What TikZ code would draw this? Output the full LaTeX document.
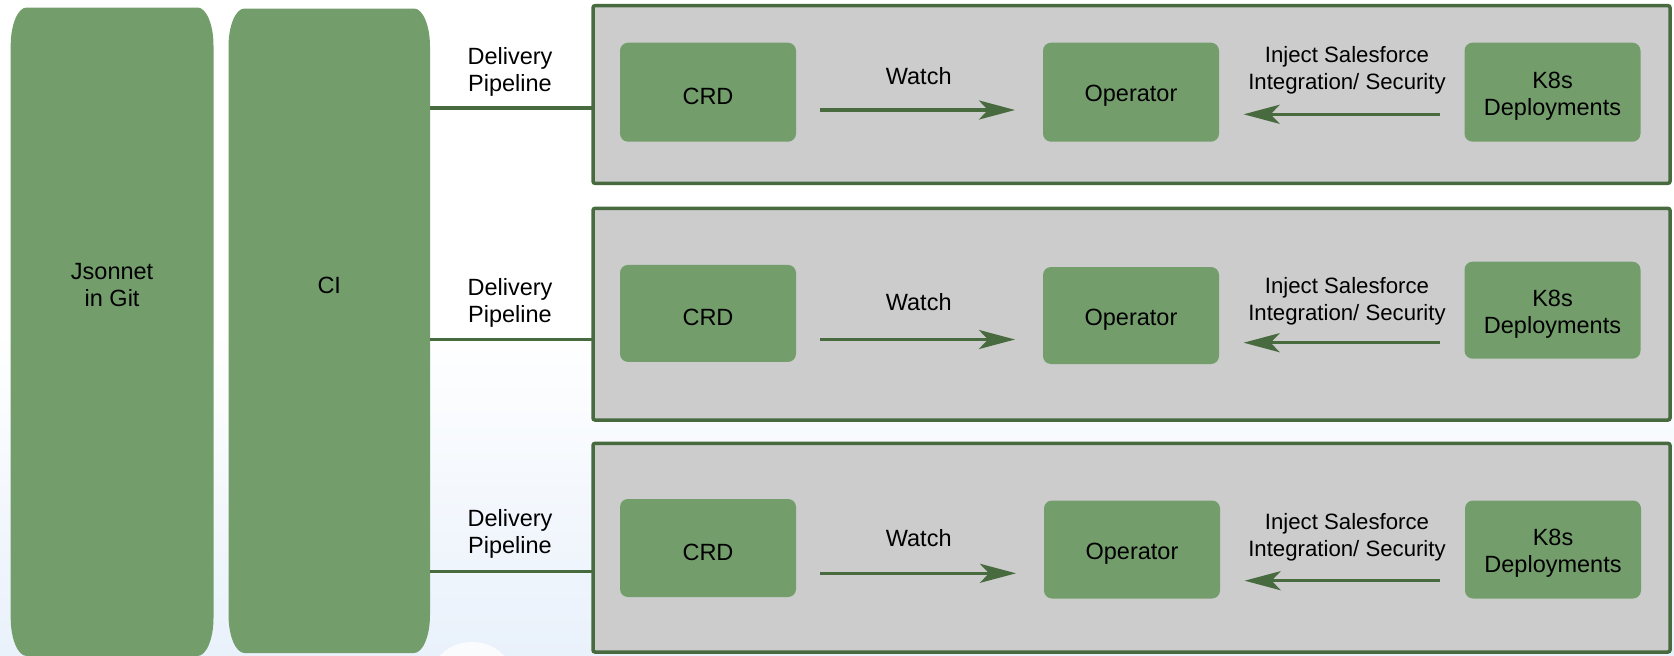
\documentclass[tikz,border=0pt]{standalone}
\usepackage{fontspec}
\setmainfont{Liberation Sans}
\usetikzlibrary{arrows.meta,calc}
\definecolor{gfill}{RGB}{115,158,108}
\definecolor{dgreen}{RGB}{71,107,63}
\definecolor{gbox}{RGB}{204,204,204}
\definecolor{bgb}{RGB}{233,241,251}
\newcommand\pillshape[1]{%
  \fill[gfill] ([yshift=-38pt]#1.north west) arc[start angle=180,end angle=90,x radius=16pt,y radius=38pt]
    -- ([xshift=-16pt]#1.north east) arc[start angle=90,end angle=0,x radius=16pt,y radius=38pt]
    -- ([yshift=38pt]#1.south east) arc[start angle=0,end angle=-90,x radius=16pt,y radius=38pt]
    -- ([xshift=16pt]#1.south west) arc[start angle=-90,end angle=-180,x radius=16pt,y radius=38pt]
    -- cycle;}
\tikzset{
  txt/.style={font=\fontsize{23.5}{27}\selectfont, align=center, inner sep=0pt},
  injtxt/.style={txt, font=\fontsize{22.2}{27}\selectfont},
  holder/.style={draw=none, fill=none, inner sep=0pt, outer sep=0pt},
  section/.style={draw=dgreen, fill=gbox, line width=3.5pt, rounded corners=2pt, inner sep=0pt, outer sep=0pt},
  inbox/.style={fill=gfill, rounded corners=8pt, minimum width=176pt, inner sep=0pt, outer sep=0pt},
  intext/.style={txt, yshift=-4pt},
  conn/.style={draw=dgreen, line width=3.5pt},
  arr/.style={draw=dgreen, line width=3.5pt, -{Stealth[length=36pt,width=19pt,inset=9pt]}}
}
\begin{document}
\begin{tikzpicture}[x=1pt,y=-1pt]
\useasboundingbox (0,0) rectangle (1674,656);
% background
\fill[white] (0,0) rectangle (1674,330);
\shade[top color=white, bottom color=bgb] (0,330) rectangle (1674,656);
\fill[white, opacity=0.75] (472,672) ellipse[x radius=38pt, y radius=30pt];

% tall pillars
\node[holder, minimum width=202.8pt, minimum height=648.5pt] (json) at (112.1,331.75) {};
\node[holder, minimum width=201.5pt, minimum height=644.5pt] (ci) at (329.25,330.75) {};
\pillshape{json}
\pillshape{ci}
\node[txt] (jsontxt) at (112.1,285) {Jsonnet\\in Git};
\node[txt] (citxt) at (329.25,285) {CI};

% section boxes
\node[section, minimum width=1077pt, minimum height=177.6pt] (sec1) at (1131.5,94.5) {};
\node[section, minimum width=1077pt, minimum height=211.6pt] (sec2) at (1131.5,314.2) {};
\node[section, minimum width=1077pt, minimum height=208.6pt] (sec3) at (1131.5,547.7) {};

% delivery pipelines
\coordinate (d1) at (510,108);
\coordinate (d2) at (510,339.5);
\coordinate (d3) at (510,571.5);
\draw[conn] (ci.east |- d1) -- (sec1.west |- d1);
\draw[conn] (ci.east |- d2) -- (sec2.west |- d2);
\draw[conn] (ci.east |- d3) -- (sec3.west |- d3);
\node[txt] (dl1) at (510,71.7) {Delivery\\Pipeline};
\node[txt] (dl2) at (510,303) {Delivery\\Pipeline};
\node[txt] (dl3) at (510,534) {Delivery\\Pipeline};

% row 1
\node[inbox, minimum height=99pt, label={[intext]center:CRD}] (crd1) at (708,92.2) {};
\node[inbox, minimum height=99pt, label={[intext]center:Operator}] (op1) at (1131,92.2) {};
\node[inbox, minimum height=99pt, label={[intext]center:{K8s\\Deployments}}] (k1) at (1552.5,92.2) {};
\draw[arr] ($(crd1.east)+(24,17.8)$) -- ($(op1.west)+(-28,17.8)$);
\draw[arr] ($(k1.west)+(-25,22.1)$) -- ($(op1.east)+(24.6,22.1)$);
\node[txt] (w1) at (918.7,76) {Watch};
\node[injtxt] (i1) at (1347,70.5) {Inject Salesforce\\Integration/ Security};

% row 2
\node[inbox, minimum height=97pt, label={[intext]center:CRD}] (crd2) at (708,313.4) {};
\node[inbox, minimum height=97pt, label={[intext]center:Operator}] (op2) at (1131,315.5) {};
\node[inbox, minimum height=97pt, label={[intext]center:{K8s\\Deployments}}] (k2) at (1552.5,310.2) {};
\draw[arr] ($(crd2.east)+(24,26.1)$) -- ($(op2.west)+(-28,24)$);
\draw[arr] ($(k2.west)+(-25,32.5)$) -- ($(op2.east)+(24.6,27.2)$);
\node[txt] (w2) at (918.7,302) {Watch};
\node[injtxt] (i2) at (1347,301) {Inject Salesforce\\Integration/ Security};

% row 3
\node[inbox, minimum height=98pt, label={[intext]center:CRD}] (crd3) at (708,548) {};
\node[inbox, minimum height=98pt, label={[intext]center:Operator}] (op3) at (1132,549.5) {};
\node[inbox, minimum height=98pt, label={[intext]center:{K8s\\Deployments}}] (k3) at (1553,549.5) {};
\draw[arr] ($(crd3.east)+(24,25.3)$) -- ($(op3.west)+(-28,23.8)$);
\draw[arr] ($(k3.west)+(-25,31.2)$) -- ($(op3.east)+(24.6,31.2)$);
\node[txt] (w3) at (918.7,538) {Watch};
\node[injtxt] (i3) at (1347,537.5) {Inject Salesforce\\Integration/ Security};
\end{tikzpicture}
\end{document}
